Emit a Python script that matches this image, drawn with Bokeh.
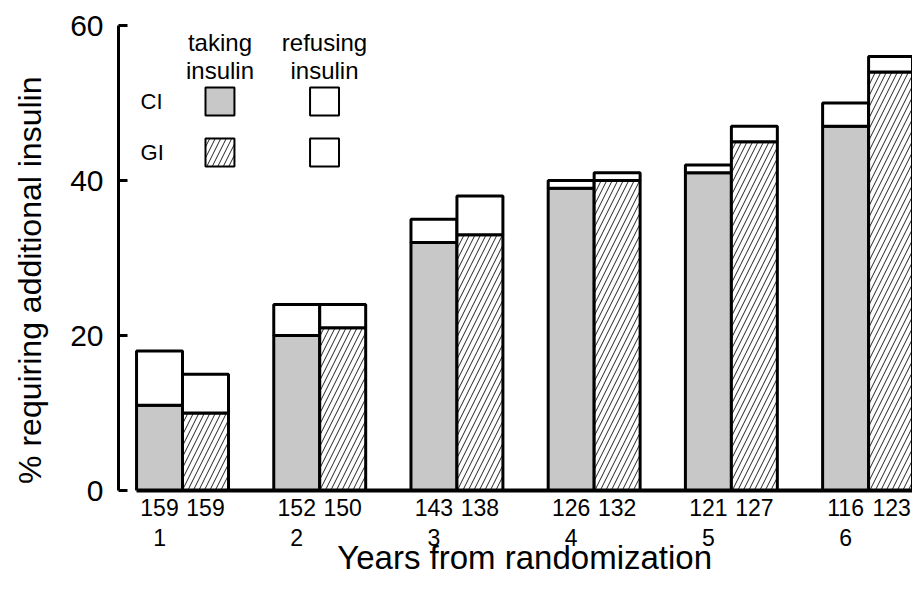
from bokeh.plotting import figure
from bokeh.models import Range1d, FixedTicker, LinearAxis
from bokeh.embed import file_html
from bokeh.resources import INLINE
from bokeh.core.properties import value

# ---- data ----
years = [1, 2, 3, 4, 5, 6]
ci_n = [159, 152, 143, 126, 121, 116]
gi_n = [159, 150, 138, 132, 127, 123]
ci_taking = [11, 20, 32, 39, 41, 47]
ci_total = [18, 24, 35, 40, 42, 50]
gi_taking = [10, 21, 33, 40, 45, 54]
gi_total = [15, 24, 38, 41, 47, 56]
y_ticks = [0, 20, 40, 60]
groups = ["CI", "GI"]
headers_top = ["taking", "refusing"]
headers_bottom = ["insulin", "insulin"]

# ---- style / layout ----
FONT = "Liberation Sans"
GRAY = "#c8c8c8"
BAR_W = 0.335
OFF = BAR_W / 2
NB = "\u00a0"

ci_x = [y - OFF for y in years]
gi_x = [y + OFF for y in years]

p = figure(width=912, height=590, output_backend="svg", toolbar_location=None,
           x_range=Range1d(0.5335, 6.32), y_range=Range1d(0, 60),
           min_border_left=118, min_border_top=25, min_border_bottom=100,
           min_border_right=0, x_axis_location=None, y_axis_location=None)
p.grid.visible = False
p.outline_line_color = None
p.background_fill_color = "white"

HATCH = dict(hatch_pattern="/", hatch_color="#222222", hatch_scale=11,
             hatch_weight=1)

# bars
p.vbar(x=ci_x, width=BAR_W, bottom=0, top=ci_taking, fill_color=GRAY,
       line_color="black", line_width=3)
p.vbar(x=ci_x, width=BAR_W, bottom=ci_taking, top=ci_total, fill_color="white",
       line_color="black", line_width=3)
p.vbar(x=gi_x, width=BAR_W, bottom=0, top=gi_taking, fill_color="white",
       line_color="black", line_width=3, **HATCH)
p.vbar(x=gi_x, width=BAR_W, bottom=gi_taking, top=gi_total, fill_color="white",
       line_color="black", line_width=3)

# legend (hand-built table)
LEG_COL = [1.273, 2.035]
LEG_ROW = [50.2, 43.6]
LEG_W = 0.211
LEG_H = 3.61
p.rect(x=[LEG_COL[0]], y=[LEG_ROW[0]], width=LEG_W, height=LEG_H,
       fill_color=GRAY, line_color="black", line_width=2)
p.rect(x=[LEG_COL[0]], y=[LEG_ROW[1]], width=LEG_W, height=LEG_H,
       fill_color="white", line_color="black", line_width=2, **HATCH)
p.rect(x=[LEG_COL[1], LEG_COL[1]], y=LEG_ROW, width=LEG_W, height=LEG_H,
       fill_color="white", line_color="black", line_width=2)
p.text(x=LEG_COL, y=[57.8, 57.8], text=headers_top, text_align="center",
       text_baseline="middle", text_font=value(FONT), text_font_size="24px",
       text_color="black")
p.text(x=LEG_COL, y=[54.2, 54.2], text=headers_bottom, text_align="center",
       text_baseline="middle", text_font=value(FONT), text_font_size="24px",
       text_color="black")
p.text(x=[0.694, 0.694], y=LEG_ROW, text=groups, text_align="left",
       text_baseline="middle", text_font=value(FONT), text_font_size="22px",
       text_color="black")

# y axis
ay = LinearAxis(ticker=FixedTicker(ticks=y_ticks), axis_line_width=3,
                axis_line_color="black", major_tick_in=9, major_tick_out=0,
                major_tick_line_width=3, major_tick_line_color="black",
                minor_tick_line_color=None, major_label_standoff=15,
                major_label_text_font=FONT, major_label_text_font_size="30px",
                major_label_text_color="black")
p.add_layout(ay, "left")
ay_lab = LinearAxis(ticker=FixedTicker(ticks=[]), axis_line_color=None,
                    major_tick_line_color=None, minor_tick_line_color=None,
                    major_label_standoff=0,
                    axis_label="% requiring additional insulin" + NB * 5,
                    axis_label_standoff=20, axis_label_text_font=FONT,
                    axis_label_text_font_size="32px",
                    axis_label_text_font_style="normal",
                    axis_label_text_color="black")
p.add_layout(ay_lab, "left")

# x axes: counts per bar, then year numbers
count_ticks = ci_x + gi_x
count_labels = {t: str(n) for t, n in zip(count_ticks, ci_n + gi_n)}
ax1 = LinearAxis(ticker=FixedTicker(ticks=count_ticks),
                 major_label_overrides=count_labels,
                 bounds=(ci_x[0] - OFF, 7), axis_line_width=4,
                 axis_line_color="black", major_tick_line_color=None,
                 minor_tick_line_color=None, major_label_standoff=2,
                 major_label_text_font=FONT, major_label_text_font_size="23px",
                 major_label_text_color="black")
p.add_layout(ax1, "below")
year_labels = {t: str(y) for t, y in zip(ci_x, years)}
ax2 = LinearAxis(ticker=FixedTicker(ticks=ci_x),
                 major_label_overrides=year_labels,
                 axis_line_color=None, major_tick_line_color=None,
                 minor_tick_line_color=None, major_label_standoff=4,
                 major_label_text_font=FONT, major_label_text_font_size="23px",
                 major_label_text_color="black",
                 axis_label=NB * 2 + "Years from randomization",
                 axis_label_standoff=-10,
                 axis_label_text_font=FONT, axis_label_text_font_size="33px",
                 axis_label_text_font_style="normal",
                 axis_label_text_color="black")
p.add_layout(ax2, "below")

open("out.html", "w").write(file_html(p, INLINE))
